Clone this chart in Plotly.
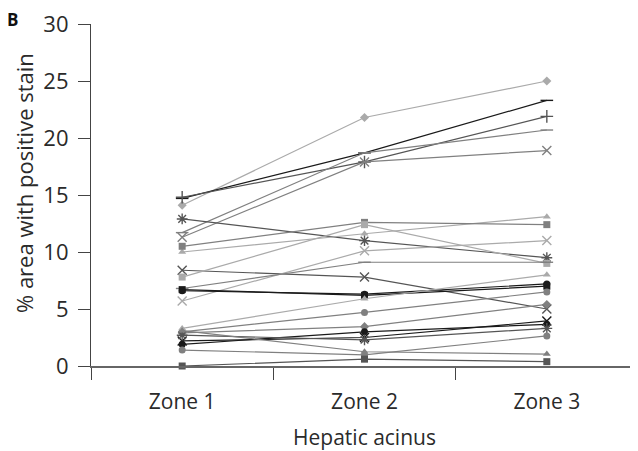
import plotly.graph_objects as go

zones = ["Zone 1", "Zone 2", "Zone 3"]
yticks = [0, 5, 10, 15, 20, 25, 30]

s01 = [14.1, 21.8, 25.0]
s02 = [14.7, 18.7, 23.3]
s03 = [14.8, 17.9, 21.9]
s04 = [11.7, 18.7, 20.7]
s05 = [11.3, 17.9, 18.9]
s06 = [12.9, 11.0, 9.5]
s07 = [10.0, 11.6, 13.1]
s08 = [10.5, 12.6, 12.4]
s09 = [8.4, 7.8, 5.0]
s10 = [7.8, 12.4, 9.0]
s11 = [5.7, 10.1, 11.0]
s12 = [6.8, 9.1, 9.1]
s13 = [6.6, 6.3, 7.2]
s14 = [6.7, 6.2, 7.0]
s15 = [3.0, 4.7, 6.5]
s16 = [3.3, 5.9, 8.0]
s17 = [2.9, 3.45, 5.4]
s18 = [1.9, 3.0, 3.66]
s19 = [2.2, 2.5, 3.95]
s20 = [2.7, 2.3, 3.3]
s21 = [3.1, 1.25, 1.05]
s22 = [1.4, 0.97, 2.64]
s23 = [0.0, 0.6, 0.38]

BK, DK, MD, LT = "#1a1a1a", "#555555", "#808080", "#aaaaaa"

series = [
    (s01, "diamond", LT),
    (s02, "line-ew", BK),
    (s03, "cross-thin", DK),
    (s04, "line-ew", MD),
    (s05, "x-thin", MD),
    (s06, "asterisk", DK),
    (s07, "triangle-up", LT),
    (s08, "square", MD),
    (s09, "x-thin", DK),
    (s10, "square", LT),
    (s11, "x-thin", LT),
    (s12, "line-ew", MD),
    (s13, "circle", BK),
    (s14, "square", BK),
    (s15, "circle", MD),
    (s16, "triangle-up", LT),
    (s17, "diamond", MD),
    (s18, "circle", BK),
    (s19, "x-thin", BK),
    (s20, "asterisk", DK),
    (s21, "triangle-up", MD),
    (s22, "circle", MD),
    (s23, "square", DK),
]

fig = go.Figure()
for vals, sym, col in series:
    thin = sym in ("line-ew", "cross-thin", "x-thin", "asterisk")
    fig.add_trace(go.Scatter(
        x=zones, y=vals, mode="lines+markers",
        line=dict(color=col, width=1.2),
        marker=dict(symbol=sym, size=9 if thin else 7, color=col,
                    line=dict(color=col, width=1.4 if thin else 0)),
        showlegend=False, cliponaxis=False,
    ))

fig.update_layout(
    width=630, height=443,
    margin=dict(l=83, r=0, t=16, b=85),
    plot_bgcolor="white", paper_bgcolor="white",
    font=dict(family="Open Sans, Lato, sans-serif", color="#2a2a2a"),
    xaxis=dict(
        range=[-0.5, 2.5], showline=True, linecolor="#666666", linewidth=1.5,
        ticks="outside", ticklen=12, tickcolor="#444444", tickwidth=1.2,
        tickson="boundaries", showgrid=False, zeroline=False,
        tickfont=dict(size=21), ticklabelstandoff=16, automargin=False,
        ticklabeloverflow="allow",
        title=dict(text="Hepatic acinus", font=dict(size=21), standoff=17),
    ),
    yaxis=dict(
        range=[0, 30], tickvals=yticks, showline=True, linecolor="#444444",
        linewidth=1.2, ticks="outside", ticklen=12, tickcolor="#444444",
        showgrid=False, zeroline=False, tickfont=dict(size=22),
        ticklabelstandoff=5, automargin=False, ticklabeloverflow="allow",
    ),
)
fig.add_annotation(text="% area with positive stain", textangle=-90,
                   x=-0.1225, y=0.535, xref="paper", yref="paper",
                   xanchor="center", yanchor="middle", showarrow=False,
                   font=dict(size=22, color="#2a2a2a"))
fig.add_annotation(text="<b>B</b>", x=-0.1444, y=1.0117, xref="paper", yref="paper",
                   xanchor="center", yanchor="middle", showarrow=False,
                   font=dict(size=17, color="#111111"))
fig.write_html("out.html")
